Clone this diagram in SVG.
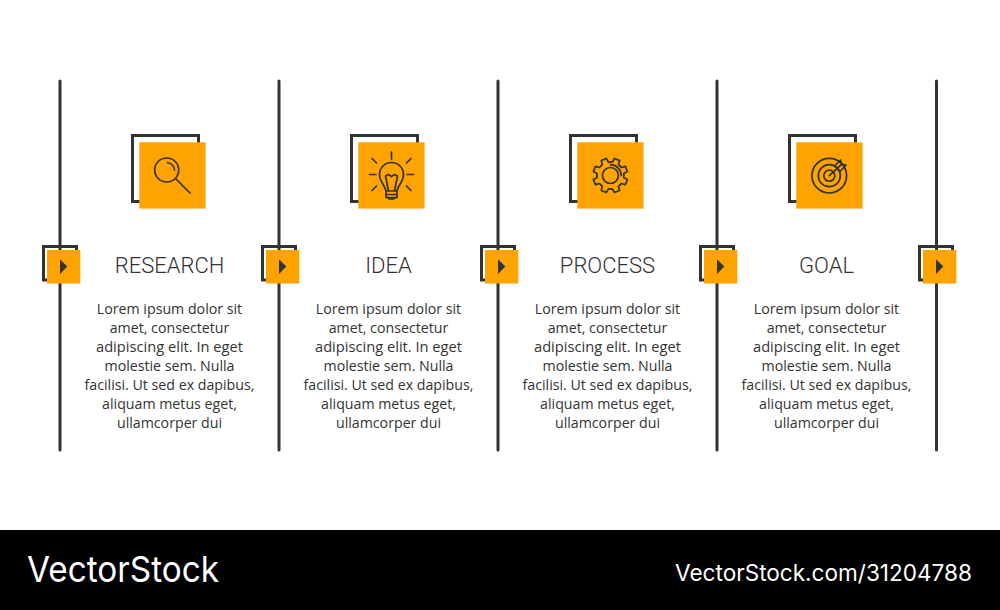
<svg xmlns="http://www.w3.org/2000/svg" width="1000" height="610" viewBox="0 0 1000 610">
<style>
.rail{stroke:#333;stroke-width:3;fill:none;stroke-linecap:round}
.back{fill:none;stroke:#333;stroke-width:3}
.org{fill:#ffa300}
.ic{fill:none;stroke:#333;stroke-width:1.7;stroke-linecap:round;stroke-linejoin:round}
.title{font-family:Roboto,"Liberation Sans",sans-serif;font-weight:300;font-size:22px;fill:#333;text-anchor:middle}
.body{font-family:"Open Sans","Liberation Sans",sans-serif;font-size:14.2px;fill:#333;text-anchor:middle}
.wm{font-family:Inter,"Liberation Sans",sans-serif;fill:#fff}
</style>
<defs>
<g id="tile"><rect class="back" x="132.500" y="135.500" width="66" height="66"/><rect class="org" x="139.300" y="142.300" width="66.300" height="66.300"/></g>
<g id="stepper"><rect class="back" x="43.500" y="246.500" width="33" height="33.500"/><rect class="org" x="47" y="250" width="33.300" height="33.500"/><path d="M60 259.300L67.300 266.600L60 274Z" fill="#333"/></g>
<path id="tooth" class="ic" d="M-5.170 -12.470L-3.270 -13.100L-2.740 -17.280L2.740 -17.280L3.270 -13.100L5.170 -12.470"/>
<g id="copy">
<text class="body" x="169.500" y="314">Lorem ipsum dolor sit</text>
<text class="body" x="169.500" y="333">amet, consectetur</text>
<text class="body" x="169.500" y="352" textLength="147" lengthAdjust="spacingAndGlyphs">adipiscing elit. In eget</text>
<text class="body" x="169.500" y="371">molestie sem. Nulla</text>
<text class="body" x="169.500" y="390">facilisi. Ut sed ex dapibus,</text>
<text class="body" x="169.500" y="409">aliquam metus eget,</text>
<text class="body" x="169.500" y="428">ullamcorper dui</text>
</g>
</defs>
<rect width="1000" height="610" fill="#fff"/>
<g id="connectors">
<line class="rail" x1="60" y1="81" x2="60" y2="450"/>
<line class="rail" x1="279" y1="81" x2="279" y2="450"/>
<line class="rail" x1="498" y1="81" x2="498" y2="450"/>
<line class="rail" x1="717" y1="81" x2="717" y2="450"/>
<line class="rail" x1="936.500" y1="81" x2="936.500" y2="450"/>
</g>
<g id="stepper-1"><use href="#stepper"/></g>
<g id="stepper-2"><use href="#stepper" x="219"/></g>
<g id="stepper-3"><use href="#stepper" x="438"/></g>
<g id="stepper-4"><use href="#stepper" x="657"/></g>
<g id="stepper-5"><use href="#stepper" x="876"/></g>
<g id="research">
<use href="#tile"/>
<circle class="ic" cx="166.700" cy="170" r="12"/>
<path class="ic" d="M167.500 162.500A8 8 0 0 1 174.500 170M175.500 178.500L190 193"/>
<text class="title" x="169.500" y="272.500">RESEARCH</text>
<use href="#copy"/>
</g>
<g id="idea">
<use href="#tile" x="219"/>
<path class="ic" d="M386 191C385 185 379.500 182 379.500 174.500A12 12 0 0 1 403.500 174.500C403.500 182 398 185 397 191ZM386 191V197.500H397V191M386 194.500H397M387.500 197.500C388 199.500 395 199.500 395.500 197.500M388.500 191L385.500 176L388.500 174.500L391.500 176.500L394.500 174.500L397.500 176L394.500 191M391.500 152V159M372 158.500L376.500 163M411 158.500L406.500 163M369.500 174.500H376M407 174.500H413.500M376.500 186L372 190.500M406.500 186L411 190.500"/>
<text class="title" x="388.500" y="272.500">IDEA</text>
<use href="#copy" x="219"/>
</g>
<g id="process">
<use href="#tile" x="438"/>
<g transform="translate(610.400 175.500)">
<use href="#tooth" transform="rotate(22.500)"/>
<use href="#tooth" transform="rotate(67.500)"/>
<use href="#tooth" transform="rotate(112.500)"/>
<use href="#tooth" transform="rotate(157.500)"/>
<use href="#tooth" transform="rotate(202.500)"/>
<use href="#tooth" transform="rotate(247.500)"/>
<use href="#tooth" transform="rotate(292.500)"/>
<use href="#tooth" transform="rotate(337.500)"/>
<circle class="ic" r="8"/>
<path class="ic" d="M0 -10.800A10.800 10.800 0 0 1 10.800 0"/>
</g>
<text class="title" x="607.500" y="272.500">PROCESS</text>
<use href="#copy" x="438"/>
</g>
<g id="goal">
<use href="#tile" x="657"/>
<circle class="ic" cx="829.300" cy="175.700" r="17.300"/>
<circle class="ic" cx="829.300" cy="175.700" r="11"/>
<circle class="ic" cx="829.300" cy="175.700" r="5.500"/>
<path class="ic" d="M829.300 175.700L842 164M834.500 166L840.500 160L841.500 164L846 165L840 171.500Z"/>
<text class="title" x="826.500" y="272.500">GOAL</text>
<use href="#copy" x="657"/>
</g>
<g id="watermark">
<rect x="0" y="530" width="1000" height="80" fill="#000"/>
<text class="wm" x="27" y="581.500" font-size="35.500" textLength="192" lengthAdjust="spacingAndGlyphs">VectorStock</text>
<text class="wm" x="675" y="580.500" font-size="22.500" textLength="297" lengthAdjust="spacingAndGlyphs">VectorStock.com/31204788</text>
</g>
</svg>
